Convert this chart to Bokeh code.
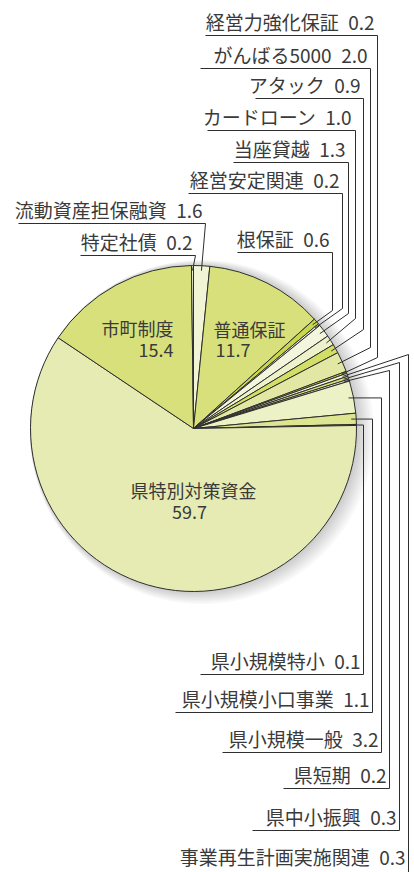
import math
from bokeh.plotting import figure
from bokeh.models import Range1d, ColumnDataSource
from bokeh.embed import file_html
from bokeh.resources import INLINE
from bokeh.core.properties import value

# ---- data: slices clockwise from 12 o'clock (percent) ----
categories = ["流動資産担保融資", "普通保証", "根保証", "経営安定関連", "当座貸越",
              "カードローン", "アタック", "がんばる5000", "経営力強化保証",
              "事業再生計画実施関連", "県中小振興", "県短期", "県小規模一般",
              "県小規模小口事業", "県小規模特小", "県特別対策資金", "市町制度", "特定社債"]
shares = [1.6, 11.7, 0.6, 0.2, 1.3, 1.0, 0.9, 2.0, 0.2,
          0.3, 0.3, 0.2, 3.2, 1.1, 0.1, 59.7, 15.4, 0.2]
colors = ["#f1f5d6", "#d8e07c", "#c9d74d", "#f3f6e0", "#f3f6dc",
          "#eef2cb", "#d3de67", "#e2e8a3", "#c9d74d",
          "#f3f6dc", "#d8e07c", "#eef2cb", "#edf1c6",
          "#dde590", "#c9d74d", "#e6ebb3", "#d8e07c", "#f1f5d6"]

# ---- layout (pixel space, y grows downward) ----
CX, CY, R = 193, 428, 163
R_END = 158
FONT = value("Noto Sans CJK JP")
TXT = "#3a3a3a"
LINE = "#2e2e2e"
TY = 9  # baseline correction for svg text

# outer label rows: underline y, underline left x, vertical x, elbow y (None = level with slice)
leader = {
    "経営力強化保証": (35, 205, 377, 357),
    "がんばる5000": (68, 200, 370, 347),
    "アタック": (98, 255, 363, 329),
    "カードローン": (130, 207, 355, 318),
    "当座貸越": (162, 233, 348, 313),
    "経営安定関連": (193, 188, 342, 308),
    "根保証": (252, 237, 332, 310),
    "流動資産担保融資": (223, 18, 205, 223),
    "特定社債": (255, 80, 195, 255),
    "事業再生計画実施関連": (876, 160, 408, 354),
    "県中小振興": (830, 252, 399, 362),
    "県短期": (788, 283, 389, 370),
    "県小規模一般": (752, 222, 381, None),
    "県小規模小口事業": (712, 175, 372, None),
    "県小規模特小": (674, 200, 363, None),
}
inner = {
    "市町制度": (173, "right"),
    "普通保証": (213, "left"),
    "県特別対策資金": (193, "center"),
}
inner_y = {"市町制度": (336, 358), "普通保証": (337, 358), "県特別対策資金": (498, 520)}

W, H = 414, 872
p = figure(width=W, height=H, output_backend="svg", toolbar_location=None,
           x_range=Range1d(0, W), y_range=Range1d(H, 0),
           min_border=0, outline_line_color=None)
p.axis.visible = False
p.grid.visible = False
p.background_fill_color = "white"
p.border_fill_color = "white"

# soft drop shadow to the lower right: opaque discs, lightest/largest first
sh_xs, sh_ys, sh_c = [], [], []
angs = [2 * math.pi * i / 160 for i in range(160)]
for g in range(10, 0, -1):
    ox, oy = CX + g * 0.92, CY + g * 0.39
    rr = R + g
    sh_xs.append([ox + rr * math.cos(a) for a in angs])
    sh_ys.append([oy + rr * math.sin(a) for a in angs])
    v = int(200 + 5.5 * g)
    sh_c.append("#%02x%02x%02x" % (v, v, v))
p.patches(xs=sh_xs, ys=sh_ys, fill_color=sh_c, line_color=None)

# wedges
starts, ends, mids = [], [], []
cum = 0.0
for s in shares:
    a0 = math.radians(90 - 3.6 * cum)
    a1 = math.radians(90 - 3.6 * (cum + s))
    starts.append(a0)
    ends.append(a1)
    mids.append((a0 + a1) / 2)
    cum += s

src = ColumnDataSource(dict(start=starts, end=ends, color=colors))
p.wedge(x=CX, y=CY, radius=R, start_angle="start", end_angle="end",
        direction="clock", fill_color="color", line_color=LINE,
        line_width=1, source=src)

# leader lines and outer labels
xs, ys = [], []
tx, ty, tt = [], [], []
for cat, s, m in zip(categories, shares, mids):
    if cat not in leader:
        continue
    uy, xl, xv, by = leader[cat]
    ex = CX + R_END * math.cos(m)
    ey = CY - R_END * math.sin(m)
    if by is None:
        by = ey
    xs.append([xl, xv, xv, ex])
    ys.append([uy, uy, by, ey])
    tx.append(xv - 3)
    base = uy - 5 if cat != "事業再生計画実施関連" else 865
    ty.append(base - TY)
    tt.append(f"{cat}\u2002{s:.1f}")

p.multi_line(xs=xs, ys=ys, line_color=LINE, line_width=1)
p.text(x=tx, y=ty, text=tt, text_align="right", text_baseline="alphabetic",
       text_font=FONT, text_font_size="19px", text_color=TXT)

# inner labels
for cat, s in zip(categories, shares):
    if cat not in inner:
        continue
    x, al = inner[cat]
    y1, y2 = inner_y[cat]
    p.text(x=[x], y=[y1 - TY], text=[cat], text_align=al, text_baseline="alphabetic",
           text_font=FONT, text_font_size="18px", text_color=TXT)
    x2 = x
    if al == "center":
        x2 = x - 4
    elif al == "left":
        x2 = x + 2
    p.text(x=[x2], y=[y2 - TY], text=[f"{s:.1f}"], text_align=al, text_baseline="alphabetic",
           text_font=FONT, text_font_size="18px", text_color=TXT)

open("out.html", "w").write(file_html(p, INLINE))
